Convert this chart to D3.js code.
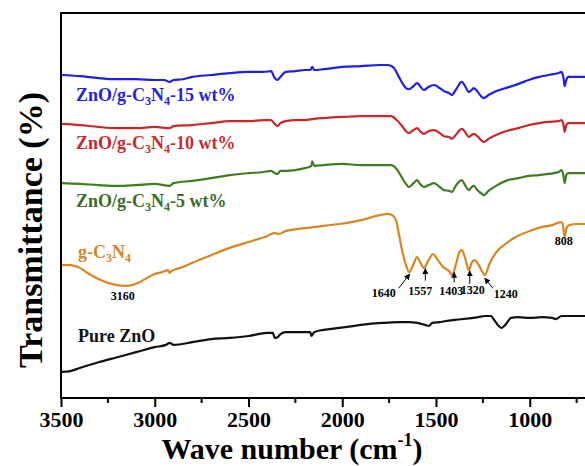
<!DOCTYPE html>
<html>
<head>
<meta charset="utf-8">
<script src="https://cdn.jsdelivr.net/npm/d3@7"></script>
<style>
  body { margin: 0; background: #fff; }
  text { font-family: "Liberation Serif", "Times New Roman", serif; font-weight: bold; }
</style>
</head>
<body>
<svg width="585" height="466"></svg>
<script>
// tick values (wavenumber, cm-1)
var majorTicks = [3500, 3000, 2500, 2000, 1500, 1000];
var minorTicks = [3250, 2750, 2250, 1750, 1250, 750];

// spectra: [wavenumber, transmittance (offset, a.u.)]
var zno15 = [[3500,83.9],[3400,83.6],[3300,83.1],[3200,82.8],[3100,82.8],[3000,82.6],[2950,82.6],[2920,82.1],[2900,82.6],[2850,82.8],[2800,83.4],[2700,83.9],[2600,84.4],[2500,84.7],[2420,84.7],[2380,84.9],[2360,83.1],[2345,82.6],[2330,83.4],[2300,84.7],[2250,84.9],[2200,85.2],[2170,85.2],[2160,86.0],[2150,85.2],[2100,85.4],[2000,86.0],[1900,86.2],[1800,86.5],[1760,86.5],[1730,86.0],[1700,83.6],[1680,81.8],[1660,80.5],[1645,80.2],[1620,81.0],[1600,81.8],[1585,81.0],[1565,80.0],[1540,80.8],[1510,81.3],[1480,80.5],[1457,79.7],[1430,79.2],[1415,78.7],[1395,80.0],[1362,82.1],[1345,81.0],[1325,79.5],[1310,80.0],[1298,80.5],[1280,79.7],[1260,78.4],[1245,77.9],[1220,78.7],[1180,79.7],[1128,80.5],[1060,81.6],[1005,82.6],[950,83.4],[900,83.9],[846,84.4],[830,84.7],[820,83.1],[814,81.0],[805,82.6],[795,83.4],[750,83.4],[700,83.4]];

var zno10 = [[3500,71.2],[3400,70.9],[3300,70.4],[3200,70.1],[3100,70.1],[3000,70.4],[2920,70.1],[2900,70.6],[2800,70.9],[2700,71.4],[2600,71.9],[2500,71.9],[2420,72.2],[2380,72.2],[2360,71.2],[2345,70.6],[2330,71.4],[2300,71.9],[2250,72.2],[2200,72.2],[2150,72.5],[2100,72.7],[2000,73.0],[1900,73.2],[1800,73.2],[1740,73.2],[1710,72.2],[1680,70.6],[1660,69.3],[1645,68.8],[1620,69.6],[1600,70.1],[1585,69.3],[1565,68.6],[1540,69.3],[1510,69.6],[1480,68.8],[1457,68.0],[1430,67.8],[1415,67.3],[1395,68.3],[1362,69.9],[1345,69.1],[1325,67.8],[1310,68.3],[1298,68.6],[1280,68.0],[1260,67.0],[1245,66.5],[1220,67.3],[1180,68.3],[1128,69.3],[1060,70.1],[1005,70.9],[950,71.4],[900,71.7],[846,71.9],[830,72.2],[820,70.9],[814,69.1],[805,70.9],[795,71.4],[750,71.4],[700,71.4]];

var zno5 = [[3500,55.8],[3400,55.6],[3300,55.3],[3200,55.1],[3100,55.3],[3000,55.6],[2920,55.1],[2900,55.8],[2800,56.4],[2700,57.1],[2600,57.9],[2500,58.4],[2420,58.7],[2380,59.0],[2360,58.4],[2345,58.2],[2330,59.0],[2300,59.0],[2250,59.2],[2200,59.7],[2165,60.3],[2160,61.5],[2150,60.3],[2100,60.5],[2000,60.8],[1900,60.5],[1800,60.5],[1740,60.5],[1710,59.5],[1680,57.1],[1660,55.6],[1645,54.8],[1620,55.8],[1600,56.6],[1585,55.6],[1565,54.8],[1540,55.3],[1510,55.8],[1480,54.8],[1457,54.0],[1430,53.8],[1415,53.5],[1395,55.1],[1362,56.6],[1345,55.3],[1325,54.0],[1310,54.8],[1298,55.1],[1280,54.0],[1260,53.2],[1245,52.7],[1220,53.8],[1180,55.1],[1128,56.4],[1060,57.1],[1005,57.7],[950,57.9],[900,58.2],[846,58.7],[830,59.2],[820,57.7],[814,55.8],[805,57.9],[795,58.4],[750,58.4],[700,58.4]];

var gc3n4 = [[3500,34.5],[3450,34.5],[3400,33.8],[3350,32.2],[3300,30.9],[3250,29.9],[3200,29.3],[3160,29.1],[3120,29.3],[3080,30.1],[3040,31.2],[3000,32.2],[2960,32.7],[2930,33.2],[2920,32.5],[2910,33.0],[2850,34.0],[2800,35.1],[2700,37.1],[2600,39.0],[2500,40.5],[2400,42.1],[2360,42.9],[2340,42.6],[2300,43.4],[2200,44.1],[2100,44.7],[2015,45.2],[1900,46.2],[1800,47.5],[1760,47.8],[1734,47.5],[1713,46.2],[1700,43.1],[1681,38.4],[1660,34.5],[1643,32.7],[1620,34.8],[1601,36.6],[1585,35.3],[1564,33.8],[1540,35.8],[1516,37.4],[1490,35.8],[1457,33.8],[1430,33.0],[1414,31.9],[1395,34.5],[1375,37.9],[1362,38.4],[1345,36.4],[1325,33.2],[1310,35.1],[1293,35.8],[1275,34.8],[1255,33.0],[1240,31.9],[1215,34.8],[1181,37.7],[1130,40.0],[1075,41.8],[1000,43.4],[937,44.4],[880,44.9],[835,45.7],[825,45.4],[814,41.8],[805,44.1],[790,44.9],[750,45.2],[700,45.2]];

var pureZnO = [[3500,6.8],[3450,7.0],[3400,7.8],[3300,9.3],[3200,10.6],[3100,11.9],[3000,13.2],[2940,13.8],[2920,14.3],[2900,13.8],[2800,14.5],[2700,15.3],[2600,15.6],[2500,16.1],[2400,16.9],[2370,16.9],[2360,15.6],[2345,15.8],[2330,16.6],[2300,17.1],[2200,17.1],[2170,17.1],[2165,16.1],[2150,17.1],[2100,17.7],[2015,18.2],[1900,19.0],[1787,19.5],[1700,19.7],[1643,19.7],[1600,19.5],[1560,19.0],[1537,18.7],[1520,19.5],[1480,19.7],[1447,20.0],[1400,20.3],[1300,20.8],[1234,21.3],[1207,21.3],[1190,20.3],[1165,18.7],[1150,18.2],[1130,19.0],[1100,20.8],[1060,21.0],[1000,20.8],[937,21.0],[880,20.8],[862,20.5],[830,21.3],[780,21.3],[700,21.3]];

// g-C3N4 band positions that are labelled
var arrowPeaks = [1640, 1557, 1403, 1320, 1240];
var plainPeaks = [3160, 808];

var svg = d3.select("svg"),
    margin = {left: 61, top: 13, bottom: 68},
    width = +svg.attr("width"),
    height = +svg.attr("height");

var x = d3.scaleLinear().domain([3500, 700]).range([margin.left, 586]);
var y = d3.scaleLinear().domain([0, 100]).range([height - margin.bottom, margin.top]);

var series = [
  {data: zno15, color: "#1f1fe6", text: "#2323e0", label: ["ZnO/g-C", "3", "N", "4", "-15 wt%"], lx: 76, ly: 101},
  {data: zno10, color: "#c8282a", text: "#c62b2d", label: ["ZnO/g-C", "3", "N", "4", "-10 wt%"], lx: 76, ly: 149},
  {data: zno5, color: "#3e7d22", text: "#3b6b27", label: ["ZnO/g-C", "3", "N", "4", "-5 wt%"], lx: 76, ly: 207},
  {data: gc3n4, color: "#d9861f", text: "#d4862c", label: ["g-C", "3", "N", "4"], lx: 78, ly: 258},
  {data: pureZnO, color: "#111", text: "#111", label: ["Pure ZnO"], lx: 78, ly: 342}
];

var line = d3.line()
    .x(function(d) { return x(d[0]); })
    .y(function(d) { return y(d[1]); })
    .curve(d3.curveMonotoneX);

var plot = svg.append("g");

plot.selectAll(".spec")
  .data(series)
  .enter().append("path")
    .attr("class", "spec")
    .attr("d", function(d) { return line(d.data); })
    .attr("fill", "none")
    .attr("stroke", function(d) { return d.color; })
    .attr("stroke-width", 2.2)
    .attr("stroke-linejoin", "round");

// series labels with subscripts
series.forEach(function(s) {
  var t = svg.append("text")
      .attr("x", s.lx)
      .attr("y", s.ly)
      .attr("fill", s.text)
      .style("font-size", "18px");
  s.label.forEach(function(part, i) {
    var sub = (i % 2 == 1);
    t.append("tspan")
      .text(part)
      .attr("dy", i == 0 ? 0 : (sub ? 4 : -4))
      .style("font-size", sub ? "12px" : "18px");
  });
});

// frame
svg.append("rect")
    .attr("x", margin.left)
    .attr("y", margin.top)
    .attr("width", 530)
    .attr("height", height - margin.bottom - margin.top)
    .attr("fill", "none")
    .attr("stroke", "#000")
    .attr("stroke-width", 2);

// x axis
var xAxis = svg.append("g")
    .attr("transform", "translate(0," + (height - margin.bottom) + ")")
    .call(d3.axisBottom(x).tickValues(majorTicks).tickFormat(d3.format("d"))
      .tickSize(9).tickSizeOuter(0));
xAxis.select(".domain").remove();
xAxis.selectAll(".tick line").attr("stroke-width", 2);
xAxis.selectAll(".tick text")
    .attr("y", 29)
    .attr("dy", 0)
    .style("font-size", "22px")
    .style("font-family", '"Liberation Serif", "Times New Roman", serif')
    .style("font-weight", "bold")
    .attr("fill", "#000");

svg.append("g")
    .attr("transform", "translate(0," + (height - margin.bottom) + ")")
  .selectAll("line")
  .data(minorTicks)
  .enter().append("line")
    .attr("x1", function(d) { return x(d); })
    .attr("x2", function(d) { return x(d); })
    .attr("y1", 0)
    .attr("y2", 5)
    .attr("stroke", "#000")
    .attr("stroke-width", 2);

// axis titles
var xt = svg.append("text")
    .attr("x", 292)
    .attr("y", 459)
    .attr("text-anchor", "middle")
    .style("font-size", "30px");
xt.append("tspan").text("Wave number (cm");
xt.append("tspan").text("-1").attr("dy", -13).style("font-size", "18px");
xt.append("tspan").text(")").attr("dy", 13);

svg.append("text")
    .attr("transform", "translate(42,230) rotate(-90)")
    .attr("text-anchor", "middle")
    .style("font-size", "34px")
    .text("Transmittance (%)");

// peak annotations on g-C3N4
function gAt(wn) {
  var i = d3.bisector(function(d) { return -d[0]; }).left(gc3n4, -wn);
  i = Math.max(1, Math.min(gc3n4.length - 1, i));
  var a = gc3n4[i - 1], b = gc3n4[i];
  return a[1] + (b[1] - a[1]) * (wn - a[0]) / (b[0] - a[0]);
}

svg.append("defs").append("marker")
    .attr("id", "head")
    .attr("viewBox", "0 0 10 10")
    .attr("refX", 9).attr("refY", 5)
    .attr("markerWidth", 6).attr("markerHeight", 6)
    .attr("orient", "auto")
  .append("path")
    .attr("d", "M0,0L10,5L0,10z")
    .attr("fill", "#000");

// tail offsets and label offsets relative to the arrow tip
var arrowStyle = {
  1640: {tx: -11, ty: 14, lx: -26, ly: 23},
  1557: {tx: 0, ty: 12, lx: -5, ly: 26},
  1403: {tx: 0, ty: 10, lx: -3, ly: 23},
  1320: {tx: 0, ty: 13, lx: 3, ly: 23},
  1240: {tx: 8, ty: 10, lx: 21, ly: 20}
};

arrowPeaks.forEach(function(wn) {
  var st = arrowStyle[wn];
  var px = x(wn), py = y(gAt(wn)) + 3;
  svg.append("line")
      .attr("x1", px + st.tx).attr("y1", py + st.ty)
      .attr("x2", px).attr("y2", py)
      .attr("stroke", "#000")
      .attr("stroke-width", 1)
      .attr("marker-end", "url(#head)");
  svg.append("text")
      .attr("x", px + st.lx)
      .attr("y", py + st.ly)
      .attr("text-anchor", "middle")
      .style("font-size", "12px")
      .text(wn);
});

plainPeaks.forEach(function(wn) {
  svg.append("text")
      .attr("x", x(wn) - 2)
      .attr("y", y(gAt(wn)) + 14)
      .attr("text-anchor", "middle")
      .style("font-size", "12px")
      .text(wn);
});
</script>
</body>
</html>
